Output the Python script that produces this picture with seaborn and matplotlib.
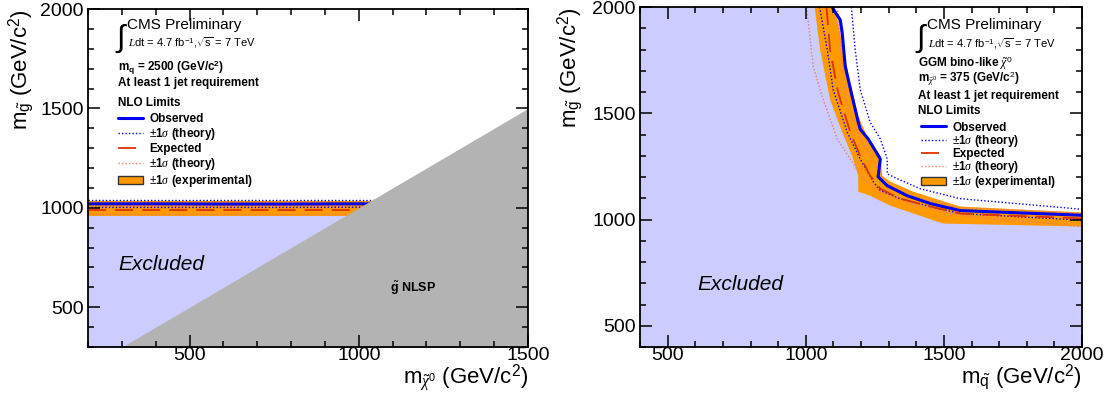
import numpy as np
import matplotlib
matplotlib.use('Agg')
import matplotlib.pyplot as plt
from matplotlib.lines import Line2D
from matplotlib.patches import Patch
from matplotlib.ticker import MultipleLocator
import seaborn as sns

sns.set_theme(style='white')
plt.rcParams['font.family'] = ['Liberation Sans', 'DejaVu Sans']
plt.rcParams['mathtext.fontset'] = 'custom'
plt.rcParams['mathtext.rm'] = 'Liberation Sans'
plt.rcParams['mathtext.it'] = 'Liberation Serif:italic'
plt.rcParams['mathtext.bf'] = 'Liberation Sans:bold'
plt.rcParams['text.color'] = 'black'
plt.rcParams['axes.labelcolor'] = 'black'
plt.rcParams['xtick.color'] = 'black'
plt.rcParams['ytick.color'] = 'black'
plt.rcParams['axes.axisbelow'] = False

# Colours
LAVENDER = '#ccccff'
GREY = '#b3b3b3'
ORANGE = '#ff9900'
BLUE = '#0000ee'
RED = '#dd3300'
LIGHTRED = '#e8806a'

# ---- Left panel: gluino mass vs neutralino mass (m_squark = 2500) ----
left_x = [200, 400, 600, 800, 1000, 1100]
left_obs = [1020, 1020, 1019, 1019, 1020, 1020]
left_obs_up = [1038, 1038, 1038, 1038, 1038, 1038]
left_obs_dn = [1002, 1002, 1002, 1002, 1003, 1003]
left_exp = [990, 990, 990, 990, 990, 990]
left_exp_up = [1010, 1010, 1010, 1010, 1010, 1010]
left_exp_dn = [969, 969, 969, 969, 969, 969]
left_band_up = [1035, 1035, 1035, 1035, 1035, 1035]
left_band_dn = [960, 960, 960, 960, 960, 960]
nlsp_x = [200, 1500]

# ---- Right panel: gluino mass vs squark mass (bino, m_chi = 375) ----
obs_x = [1095, 1125, 1132, 1143, 1168, 1190, 1197, 1226, 1270, 1262, 1295, 1367, 1451, 1559, 2000]
obs_y = [2000, 1939, 1879, 1720, 1579, 1458, 1425, 1379, 1285, 1201, 1159, 1112, 1075, 1042, 1020]
exp_x = [1075, 1088, 1117, 1161, 1197, 1233, 1270, 1342, 1451, 1559, 2000]
exp_y = [2000, 1799, 1598, 1411, 1299, 1206, 1145, 1098, 1061, 1028, 1005]
obs_up_x = [1165, 1179, 1197, 1233, 1270, 1295, 1295, 1331, 1414, 1559, 2000]
obs_up_y = [2000, 1799, 1612, 1458, 1379, 1285, 1215, 1192, 1145, 1098, 1048]
obs_dn_x = [1050, 1078, 1099, 1150, 1197, 1244, 1270, 1342, 1451, 1559, 2000]
obs_dn_y = [2000, 1799, 1612, 1411, 1285, 1178, 1136, 1098, 1061, 1028, 997]
exp_up_x = [1115, 1143, 1197, 1251, 1288, 1378, 1559, 2000]
exp_up_y = [2000, 1565, 1379, 1262, 1168, 1112, 1056, 1030]
exp_dn_x = [1003, 1027, 1063, 1114, 1161, 1208, 1270, 1378, 1559, 2000]
exp_dn_y = [2000, 1720, 1565, 1379, 1285, 1192, 1131, 1075, 1019, 967]
band_up_x = [1105, 1136, 1161, 1190, 1222, 1270, 1277, 1306, 1389, 1559, 2000]
band_up_y = [2000, 1799, 1645, 1486, 1393, 1299, 1206, 1178, 1131, 1061, 1033]
band_dn_x = [1032, 1052, 1088, 1132, 1168, 1190, 1190, 1233, 1306, 1498, 2000]
band_dn_y = [2000, 1799, 1565, 1411, 1299, 1206, 1131, 1112, 1065, 981, 967]


def style_axes(ax, xlim, ylim, xticks, yticks):
    ax.set_xlim(*xlim)
    ax.set_ylim(*ylim)
    ax.set_xticks(xticks)
    ax.set_yticks(yticks)
    ax.xaxis.set_minor_locator(MultipleLocator(100))
    ax.yaxis.set_minor_locator(MultipleLocator(100))
    ax.tick_params(which='both', direction='in', top=True, right=True,
                   bottom=True, left=True, labelsize=14, color='black', width=1.1)
    ax.tick_params(which='major', length=8.5)
    ax.tick_params(which='minor', length=4.5)
    ax.tick_params(axis='x', which='major', pad=0)
    ax.tick_params(axis='y', which='major', pad=3)
    ax.xaxis.set_zorder(10)
    ax.yaxis.set_zorder(10)
    for s in ax.spines.values():
        s.set_color('black')
        s.set_linewidth(1.3)
        s.set_zorder(11)
    ax.grid(False)


def draw_lines(ax, xs, ys, color, lw, ls, z):
    sns.lineplot(x=xs, y=ys, sort=False, estimator=None, color=color,
                 linewidth=lw, linestyle=ls, ax=ax, zorder=z)


def add_header(ax, x, y, lines, gaps):
    ax.text(x - 0.027, y - 0.04, r'$\int$', transform=ax.transAxes,
            fontsize=22, va='center', ha='left')
    ax.text(x, y, 'CMS Preliminary', transform=ax.transAxes, fontsize=11,
            va='center', ha='left')
    ax.text(x + 0.003, y - 0.054, r'$\mathit{L}$dt = 4.7 fb$^{-1}$,$\sqrt{\mathrm{s}}$ = 7 TeV',
            transform=ax.transAxes, fontsize=8, va='center', ha='left')
    for txt, dy in zip(lines, gaps):
        ax.text(x - 0.02, y - dy, txt, transform=ax.transAxes, fontsize=8.5,
                fontweight='bold', va='center', ha='left')


def add_legend(ax, anchor, spacing):
    handles = [
        Line2D([], [], color=BLUE, lw=2.2),
        Line2D([], [], color=BLUE, lw=1, ls=(0, (1, 1.5))),
        Line2D([], [], color=RED, lw=1.3, ls=(0, (10, 5))),
        Line2D([], [], color=LIGHTRED, lw=1, ls=(0, (1, 1.5))),
        Patch(facecolor=ORANGE, edgecolor='#333333', lw=1),
    ]
    labels = ['Observed', r'$\pm$1$\sigma$ (theory)', 'Expected',
              r'$\pm$1$\sigma$ (theory)', r'$\pm$1$\sigma$ (experimental)']
    leg = ax.legend(handles, labels, loc='upper left', bbox_to_anchor=anchor,
                    frameon=False, borderpad=0, borderaxespad=0,
                    handlelength=2.1, handletextpad=0.55, labelspacing=spacing,
                    prop={'weight': 'bold', 'size': 8.5})
    leg.set_zorder(20)


fig = plt.figure(figsize=(11.09, 4.04), dpi=100)
axL = fig.add_axes([88 / 1109, 57 / 404, 440 / 1109, 338 / 404])
axR = fig.add_axes([640 / 1109, 57 / 404, 442 / 1109, 340 / 404])

# ---------------- left panel ----------------
lx = np.array(left_x, dtype=float)
axL.fill_between(lx, 300, left_obs, color=LAVENDER, lw=0, zorder=1)
axL.fill_between(lx, left_band_dn, left_band_up, color=ORANGE, lw=0, zorder=2)
draw_lines(axL, lx, left_exp_dn, LIGHTRED, 1, (0, (1, 1.5)), 3)
draw_lines(axL, lx, left_exp_up, LIGHTRED, 1, (0, (1, 1.5)), 3)
draw_lines(axL, lx, left_obs_dn, BLUE, 1, (0, (1, 1.5)), 3)
draw_lines(axL, lx, left_obs_up, BLUE, 1, (0, (1, 1.5)), 3)
draw_lines(axL, lx, left_exp, RED, 1.3, (0, (10, 5)), 4)
draw_lines(axL, lx, left_obs, BLUE, 2.2, '-', 5)
# gluino NLSP region (m_gluino < m_neutralino)
axL.fill_between(nlsp_x, 0, nlsp_x, color=GREY, lw=0, zorder=6)
style_axes(axL, (200, 1500), (300, 2000), [500, 1000, 1500], [500, 1000, 1500, 2000])
axL.text(289, 713, 'Excluded', fontsize=15, style='italic', va='center', ha='left', zorder=7)
axL.text(1093, 594, r'$\tilde{\mathbf{g}}$ NLSP', fontsize=9, fontweight='bold',
         va='center', ha='left', zorder=7)
add_header(axL, 0.089, 0.953,
           [r'm$_{\mathbf{q}}$ = 2500 (GeV/c$^{\mathbf{2}}$)', 'At least 1 jet requirement', 'NLO Limits'],
           [0.128, 0.173, 0.23])
add_legend(axL, (0.068, 0.691), 0.08)
axL.set_ylabel(r'm$_{\tilde{\mathrm{g}}}$ (GeV/c$^{2}$)', fontsize=16, loc='top')
axL.yaxis.set_label_coords(-0.118, 1.0)
axL.set_xlabel(r'm$_{\tilde{\chi}^{0}}$ (GeV/c$^{2}$)', fontsize=16, loc='right')
axL.xaxis.set_label_coords(1.0, -0.045)

# ---------------- right panel ----------------
axR.fill(np.r_[400, obs_x, 2000, 400], np.r_[2000, obs_y, 400, 400],
         color=LAVENDER, lw=0, zorder=1)
axR.fill(np.r_[band_up_x, band_dn_x[::-1]], np.r_[band_up_y, band_dn_y[::-1]],
         color=ORANGE, lw=0, zorder=2)
draw_lines(axR, exp_dn_x, exp_dn_y, LIGHTRED, 1, (0, (1, 1.5)), 3)
draw_lines(axR, exp_up_x, exp_up_y, LIGHTRED, 1, (0, (1, 1.5)), 3)
draw_lines(axR, obs_dn_x, obs_dn_y, BLUE, 1, (0, (1, 1.5)), 3)
draw_lines(axR, obs_up_x, obs_up_y, BLUE, 1, (0, (1, 1.5)), 3)
draw_lines(axR, exp_x, exp_y, RED, 1.3, (0, (10, 5)), 4)
draw_lines(axR, obs_x, obs_y, BLUE, 2.2, '-', 5)
style_axes(axR, (400, 2000), (400, 2000), [500, 1000, 1500, 2000], [500, 1000, 1500, 2000])
axR.text(606, 692, 'Excluded', fontsize=15, style='italic', va='center', ha='left', zorder=7)
add_header(axR, 0.649, 0.947,
           [r'GGM bino-like $\tilde{\chi}^{0}$', r'm$_{\tilde{\chi}^{0}}$ = 375 (GeV/c$^{2}$)',
            'At least 1 jet requirement', 'NLO Limits'],
           [0.112, 0.159, 0.209, 0.253])
add_legend(axR, (0.636, 0.663), -0.07)
axR.set_ylabel(r'm$_{\tilde{\mathrm{g}}}$ (GeV/c$^{2}$)', fontsize=16, loc='top')
axR.yaxis.set_label_coords(-0.124, 1.0)
axR.set_xlabel(r'm$_{\tilde{\mathrm{q}}}$ (GeV/c$^{2}$)', fontsize=16, loc='right')
axR.xaxis.set_label_coords(1.0, -0.045)

fig.savefig('out.png', dpi=100)
